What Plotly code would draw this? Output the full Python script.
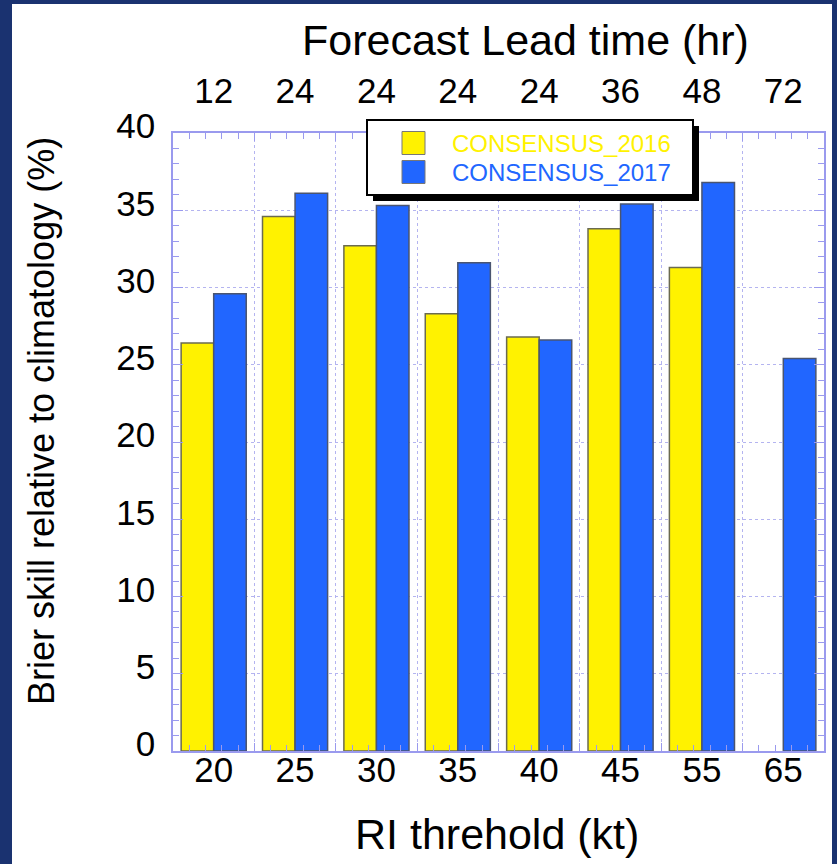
import plotly.graph_objects as go

# RI threshold categories (bottom axis) and matching forecast lead times (top axis)
thresholds = ["20", "25", "30", "35", "40", "45", "55", "65"]
lead_times = ["12", "24", "24", "24", "24", "36", "48", "72"]

series_names = ["CONSENSUS_2016", "CONSENSUS_2017"]
consensus_2016 = [26.4, 34.6, 32.7, 28.3, 26.8, 33.8, 31.3, None]
consensus_2017 = [29.6, 36.1, 35.3, 31.6, 26.6, 35.4, 36.8, 25.4]

y_ticks = [0, 5, 10, 15, 20, 25, 30, 35, 40]

# figure geometry (pixels)
FIG_W, FIG_H = 837, 864
L, R, T, B = 173, 13, 133, 113
PW, PH = FIG_W - L - R, FIG_H - T - B


def px(x):
    return (x - L) / PW


def py(y):
    return (FIG_H - B - y) / PH


FONT = "Liberation Sans, Arial, sans-serif"
YELLOW = "#fff200"
BLUE = "#2166ff"
AXIS = "#9a9aee"
GRID = "#b4b4f0"
NAVY = "#1a3270"
TICK_SIZE = 35

xpos = list(range(len(thresholds)))
bounds = [i - 0.5 for i in range(len(thresholds) + 1)]

fig = go.Figure()
fig.add_trace(go.Bar(x=xpos, y=consensus_2016, name=series_names[0],
                     marker=dict(color=YELLOW, line=dict(color="#6b6b50", width=1.5))))
fig.add_trace(go.Bar(x=xpos, y=consensus_2017, name=series_names[1],
                     marker=dict(color=BLUE, line=dict(color="#4a5570", width=1.5))))
# empty traces so the label axes (bottom thresholds, top lead times) get drawn
for ax in ["x2", "x3"]:
    fig.add_trace(go.Scatter(x=xpos, y=[None] * len(xpos), xaxis=ax, yaxis="y",
                             mode="markers", hoverinfo="skip", showlegend=False))

xr = [-0.5, len(thresholds) - 0.5]

fig.update_layout(
    width=FIG_W, height=FIG_H,
    margin=dict(l=L, r=R, t=T, b=B, pad=0),
    paper_bgcolor=NAVY, plot_bgcolor="white",
    barmode="group", bargap=0.2, bargroupgap=0.0,
    showlegend=False,
    font=dict(family=FONT, color="black", size=TICK_SIZE),
    # main x axis: frame, category-boundary grid and minor ticks
    xaxis=dict(range=xr, tickvals=bounds, showticklabels=False,
               ticks="inside", ticklen=8, tickcolor=AXIS, tickwidth=1,
               showgrid=True, gridcolor=GRID, griddash="dot", gridwidth=1,
               showline=True, linecolor=AXIS, linewidth=1.5, mirror="ticks",
               zeroline=False,
               minor=dict(tick0=-0.5, dtick=0.2, ticks="inside", ticklen=6,
                          tickcolor=AXIS, showgrid=False)),
    # bottom labels: RI threshold
    xaxis2=dict(overlaying="x", anchor="y", side="bottom", range=xr,
                tickvals=xpos, ticktext=thresholds, ticks="", showgrid=False,
                showline=False, zeroline=False, ticklabelstandoff=-5,
                tickfont=dict(size=TICK_SIZE, color="black", family=FONT)),
    # top labels: forecast lead time
    xaxis3=dict(overlaying="x", anchor="y", side="top", range=xr,
                tickvals=xpos, ticktext=lead_times, ticks="", showgrid=False,
                showline=False, zeroline=False, ticklabelstandoff=22,
                tickfont=dict(size=TICK_SIZE, color="black", family=FONT)),
    yaxis=dict(range=[0, 40], tickvals=y_ticks, ticks="inside", ticklen=10,
               tickcolor=AXIS, showgrid=True, gridcolor=GRID, griddash="dot",
               showline=True, linecolor=AXIS, linewidth=1.5, mirror="ticks",
               zeroline=False, ticklabelstandoff=9, ticklabelshift=-7,
               tickfont=dict(size=TICK_SIZE, color="black", family=FONT),
               minor=dict(dtick=1, ticks="inside", ticklen=6, tickcolor=AXIS,
                          showgrid=False)),
)

shapes = [
    # white panel behind the chart
    dict(type="rect", xref="paper", yref="paper", layer="below",
         x0=px(12), x1=px(832), y0=py(FIG_H + 5), y1=py(4),
         fillcolor="white", line=dict(width=0)),
    # legend shadow and box
    dict(type="rect", xref="paper", yref="paper",
         x0=px(373), x1=px(699), y0=py(201), y1=py(126),
         fillcolor="black", line=dict(width=0)),
    dict(type="rect", xref="paper", yref="paper",
         x0=px(367), x1=px(693), y0=py(195), y1=py(120),
         fillcolor="white", line=dict(color="black", width=2)),
]
annotations = []
for i, (name, col) in enumerate(zip(series_names, [YELLOW, BLUE])):
    yc = 143 + i * 29
    shapes.append(dict(type="rect", xref="paper", yref="paper",
                       x0=px(402), x1=px(425), y0=py(yc + 11.5), y1=py(yc - 11.5),
                       fillcolor=col, line=dict(color="#777777", width=1)))
    annotations.append(dict(text=name, xref="paper", yref="paper",
                            x=px(450), y=py(yc), xanchor="left", yanchor="middle",
                            showarrow=False,
                            font=dict(size=24, color=col, family=FONT)))

annotations += [
    dict(text="Forecast Lead time (hr)", xref="paper", yref="paper",
         x=px(525), y=py(40), xanchor="center", yanchor="middle",
         showarrow=False, font=dict(size=43, color="black", family=FONT)),
    dict(text="RI threhold (kt)", xref="paper", yref="paper",
         x=px(497), y=py(834), xanchor="center", yanchor="middle",
         showarrow=False, font=dict(size=43, color="black", family=FONT)),
    dict(text="Brier skill relative to climatology (%)", xref="paper", yref="paper",
         x=px(41), y=py(421), xanchor="center", yanchor="middle", textangle=-90,
         showarrow=False, font=dict(size=36, color="black", family=FONT)),
]

fig.update_layout(shapes=shapes, annotations=annotations)
fig.write_html("out.html")
